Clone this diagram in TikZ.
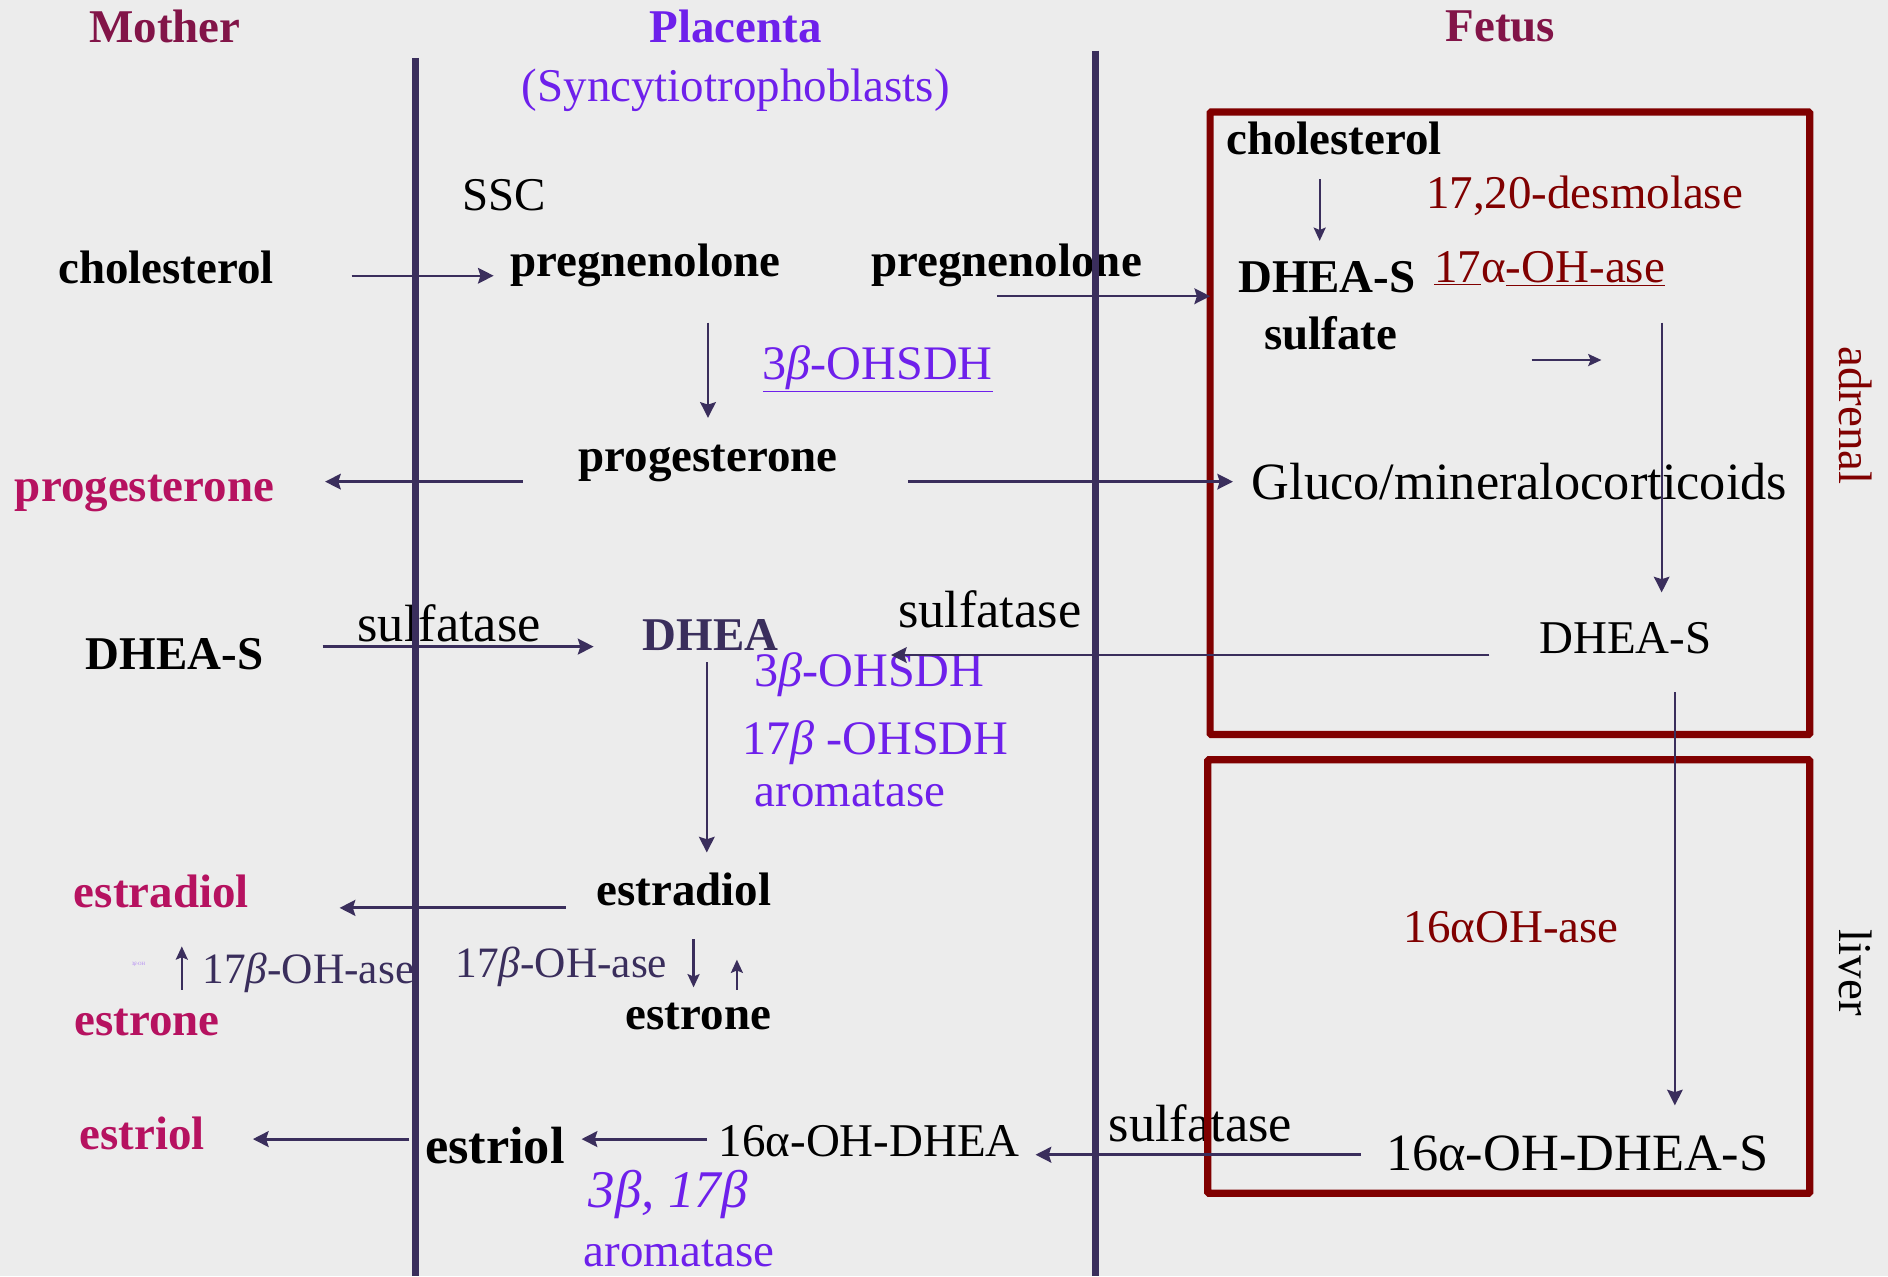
\documentclass[tikz,border=0pt]{standalone}
\usepackage{fontspec}
\setmainfont{Liberation Serif}
\usetikzlibrary{arrows.meta}
\definecolor{bg}{RGB}{236,236,236}
\definecolor{linecol}{RGB}{58,46,92}
\definecolor{boxred}{RGB}{128,0,0}
\definecolor{headred}{RGB}{130,20,72}
\definecolor{vio}{RGB}{110,32,235}
\definecolor{crim}{RGB}{182,18,96}
\newcommand{\ib}{{\itshape β}}
\tikzset{
  lbl/.style={inner sep=0pt, font=\fontsize{39}{44}\selectfont},
  blbl/.style={inner sep=0pt, font=\fontsize{39}{44}\selectfont\bfseries},
  big/.style={inner sep=0pt, font=\fontsize{43.5}{48}\selectfont},
  mid/.style={inner sep=0pt, font=\fontsize{36}{40}\selectfont},
  arr/.style={draw=linecol, line width=2pt, -{Stealth[length=13pt,width=13pt,inset=2pt]}},
  sarr/.style={draw=linecol, line width=1.8pt, -{Stealth[length=11pt,width=10pt,inset=2pt]}},
  divider/.style={draw=linecol, line width=6pt},
  organ/.style={draw=boxred, line width=6pt, rounded corners=1pt}
}
\begin{document}
\begin{tikzpicture}[x=1pt,y=-1pt]
\useasboundingbox (0,0) rectangle (1568,1060);
\path[fill=bg] (0,0) rectangle (1568,1060);
% headers
\node[blbl, text=headred] (mother) at (137,22) {Mother};
\node[blbl, text=vio] (placenta) at (611,22) {Placenta};
\node[blbl, text=headred] (fetus) at (1246,22) {Fetus};
\node[lbl, text=vio] (sync) at (611,75) {(Syncytiotrophoblasts)};
% placenta column
\node[lbl] (ssc) at (419,162) {SSC};
\node[blbl] (chol1) at (138,222) {cholesterol};
\node[blbl] (preg1) at (536,220) {pregnenolone};
\node[blbl] (preg2) at (836,220) {pregnenolone};
\node[inner sep=0pt, font=\fontsize{40}{44}\selectfont, text=vio] (ohsdh1) at (729,306) {\underline{3\ib-OHSDH}};
\node[blbl] (prog1) at (588,385) {progesterone};
\node[blbl, text=crim] (prog0) at (120,410) {progesterone};
\node[big] (gluco) at (1262,400) {Gluco/mineralocorticoids};
% adrenal
\node[blbl] (cholF) at (1108,115) {cholesterol};
\node[blbl] (dheasF) at (1102,230) {DHEA-S};
\node[blbl] (sulfate) at (1105,277) {sulfate};
\node[lbl, text=boxred] (desmo) at (1316,163) {17,20-desmolase};
\node[lbl, text=boxred] (ohase17) at (1287,223) {\underline{17}α\underline{-OH-ase}};
\node[lbl] (dheasR) at (1350,530) {DHEA-S};
% DHEA row
\node[big] (sulf2) at (822,506) {sulfatase};
\node[blbl] (dheas0) at (145,543) {DHEA-S};
\node[big] (sulf1) at (373,518) {sulfatase};
\node[blbl, text=linecol] (dhea) at (590,527) {DHEA};
\node[inner sep=0pt, font=\fontsize{40}{44}\selectfont, text=vio] (ohsdh2) at (722,560) {3\ib-OHSDH};
\node[inner sep=0pt, font=\fontsize{40}{44}\selectfont, text=vio] (ohsdh3) at (727,617) {17\ib{} -OHSDH};
\node[lbl, text=vio] (arom1) at (706,659) {aromatase};
% estrogens
\node[blbl] (estradiol1) at (568,739) {estradiol};
\node[blbl, text=crim] (estradiol0) at (134,740) {estradiol};
\node[mid, text=linecol, anchor=west] (ohaseM) at (168,808) {17\ib-OH-ase};
\node[inner sep=0pt, font=\fontsize{4}{4}\selectfont, text=vio!55] (tiny) at (115,801) {3\ib-OH};
\node[blbl, text=crim] (estrone0) at (122,849) {estrone};
\node[mid, text=linecol, anchor=west] (ohaseP) at (378,803) {17\ib-OH-ase};
\node[blbl] (estrone1) at (580,844) {estrone};
\node[blbl, text=crim] (estriol0) at (118,941) {estriol};
\node[inner sep=0pt, font=\fontsize{43.5}{48}\selectfont\bfseries] (estriol1) at (411,951) {estriol};
\node[lbl] (oh16dhea) at (722,948) {16α-OH-DHEA};
\node[big] (sulf3) at (997,933) {sulfatase};
\node[big] (oh16dheas) at (1310,958) {16α-OH-DHEA-S};
\node[inner sep=0pt, font=\fontsize{44}{48}\selectfont\itshape, text=vio] (b317) at (555,992) {3β, 17β};
\node[lbl, text=vio] (arom2) at (564,1041) {aromatase};
% liver
\node[lbl, text=boxred] (oh16ase) at (1255,770) {16αOH-ase};
\node[lbl, text=boxred, rotate=-90] (adrenal) at (1541,345) {adrenal};
\node[lbl, rotate=-90] (liver) at (1541,808) {liver};
% dividers
\coordinate (d1t) at (345,48); \coordinate (d1b) at (345,1060);
\coordinate (d2t) at (910,42); \coordinate (d2b) at (910,1060);
\draw[divider] (d1t) -- (d1b);
\draw[divider] (d2t) -- (d2b);
% organ boxes
\coordinate (adrA) at (1005,93); \coordinate (adrB) at (1503,610);
\coordinate (livA) at (1003,631); \coordinate (livB) at (1503,991);
\draw[organ] (adrA) rectangle (adrB);
\draw[organ] (livA) rectangle (livB);
% arrow endpoints
\coordinate (a1s) at (292,229); \coordinate (a1e) at (410,229);
\coordinate (a2s) at (828,246); \coordinate (a2e) at (1005,246);
\coordinate (a3s) at (588,268); \coordinate (a3e) at (588,347);
\coordinate (a4s) at (434,400); \coordinate (a4e) at (270,400);
\coordinate (a5s) at (754,400); \coordinate (a5e) at (1024,400);
\coordinate (a6s) at (1096,149); \coordinate (a6e) at (1096,200);
\coordinate (a7s) at (1272,299); \coordinate (a7e) at (1330,299);
\coordinate (a8s) at (1380,268); \coordinate (a8e) at (1380,492);
\coordinate (a9s) at (1237,544); \coordinate (a9e) at (740,544);
\coordinate (a10s) at (268,537); \coordinate (a10e) at (493,537);
\coordinate (a11s) at (587,550); \coordinate (a11e) at (587,708);
\coordinate (a12s) at (470,754); \coordinate (a12e) at (282,754);
\coordinate (a13s) at (151,822); \coordinate (a13e) at (151,786);
\coordinate (a14s) at (576,780); \coordinate (a14e) at (576,820);
\coordinate (a15s) at (612,822); \coordinate (a15e) at (612,797);
\coordinate (a16s) at (340,946); \coordinate (a16e) at (210,946);
\coordinate (a17s) at (587,946); \coordinate (a17e) at (483,946);
\coordinate (a18s) at (1130,959); \coordinate (a18e) at (860,959);
\coordinate (a19s) at (1391,575); \coordinate (a19e) at (1391,918);
\draw[arr] (a1s) -- (a1e);
\draw[arr] (a2s) -- (a2e);
\draw[arr] (a3s) -- (a3e);
\draw[arr] (a4s) -- (a4e);
\draw[arr] (a5s) -- (a5e);
\draw[sarr] (a6s) -- (a6e);
\draw[sarr] (a7s) -- (a7e);
\draw[arr, line width=1.6pt] (a8s) -- (a8e);
\draw[arr] (a9s) -- (a9e);
\draw[arr, line width=2.6pt] (a10s) -- (a10e);
\draw[arr] (a11s) -- (a11e);
\draw[arr, line width=2.6pt] (a12s) -- (a12e);
\draw[sarr] (a13s) -- (a13e);
\draw[sarr] (a14s) -- (a14e);
\draw[sarr] (a15s) -- (a15e);
\draw[arr, line width=2.6pt] (a16s) -- (a16e);
\draw[arr, line width=2.6pt] (a17s) -- (a17e);
\draw[arr, line width=2.6pt] (a18s) -- (a18e);
\draw[arr, line width=1.6pt] (a19s) -- (a19e);
\end{tikzpicture}
\end{document}
